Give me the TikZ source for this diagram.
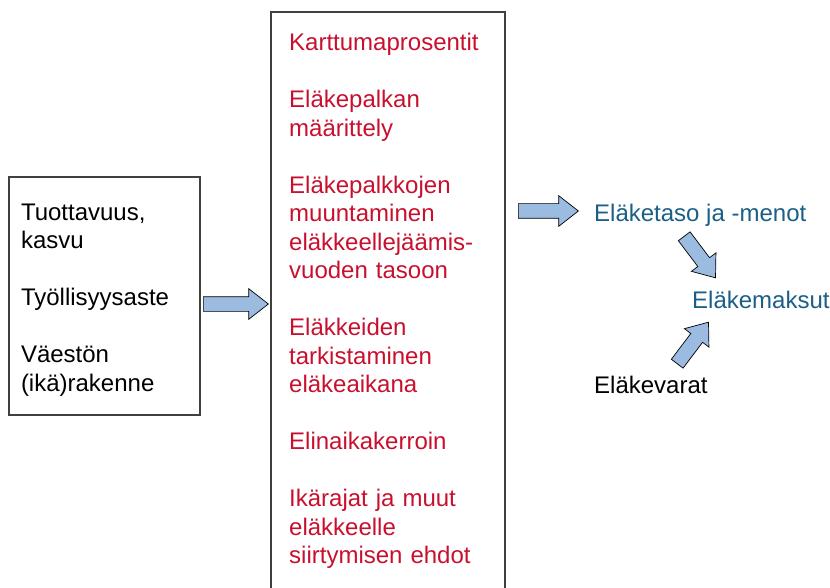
\documentclass[tikz,border=0pt]{standalone}
\usepackage{fontspec}
\setmainfont{Liberation Sans}
\usetikzlibrary{shapes.arrows,positioning}
\definecolor{redtext}{HTML}{C8102E}
\definecolor{bluetext}{HTML}{1B5E86}
\definecolor{arrowfill}{HTML}{9BBBE0}
\definecolor{boxline}{HTML}{404040}

\begin{document}
\begin{tikzpicture}[x=1pt,y=-1pt,
    every node/.style={font=\fontsize{24}{28.5}\selectfont, inner sep=0pt},
    box node/.style={draw=boxline, line width=1.1pt, align=left, text width=167pt, inner xsep=12pt, minimum width=191pt, minimum height=238pt},
    block arrow/.style={single arrow, draw=black, line width=0.7pt, fill=arrowfill, inner sep=7pt, single arrow head extend=8pt, single arrow tip angle=76, anchor=tail}]

    \useasboundingbox (0,0) rectangle (830,588);

    % left column
    \node[box node] (factors) at (104.5,296) {\rule{0pt}{24pt}Tuottavuus,\\ kasvu\\[28.5pt] Työllisyysaste\\[28.5pt] Väestön\\ (ikä)rakenne};

    % middle column, open at the bottom
    \draw[boxline, line width=1.1pt] (271,588) |- (505,12) -- (505,588);
    \node[text=redtext, text width=215pt, align=left, anchor=base west] (rules) at (289,51) {Karttumaprosentit\\[28.5pt]
        Eläkepalkan\\ määrittely\\[28.5pt]
        Eläkepalkkojen\\ muuntaminen\\ eläkkeellejäämis-\\ vuoden tasoon\\[28.5pt]
        Eläkkeiden\\ tarkistaminen\\ eläkeaikana\\[28.5pt]
        Elinaikakerroin\\[28.5pt]
        Ikärajat ja muut\\ eläkkeelle\\ siirtymisen ehdot};

    % right column
    \node[text=bluetext, anchor=base west] (level) at (594,222) {Eläketaso ja -menot};
    \node[text=bluetext, anchor=base west] (contrib) at (692,308) {Eläkemaksut};
    \node[anchor=base west] (funds) at (594,393) {Eläkevarat};

    % block arrows
    \node[block arrow, minimum height=65pt] (a1) at (203,304) {};
    \node[block arrow, minimum height=60pt] (a2) at (518,211) {};
    \node[block arrow, minimum height=52pt, rotate=-53] (a3) at (684,236) {};
    \node[block arrow, minimum height=52pt, rotate=53] (a4) at (677,364) {};
\end{tikzpicture}
\end{document}
